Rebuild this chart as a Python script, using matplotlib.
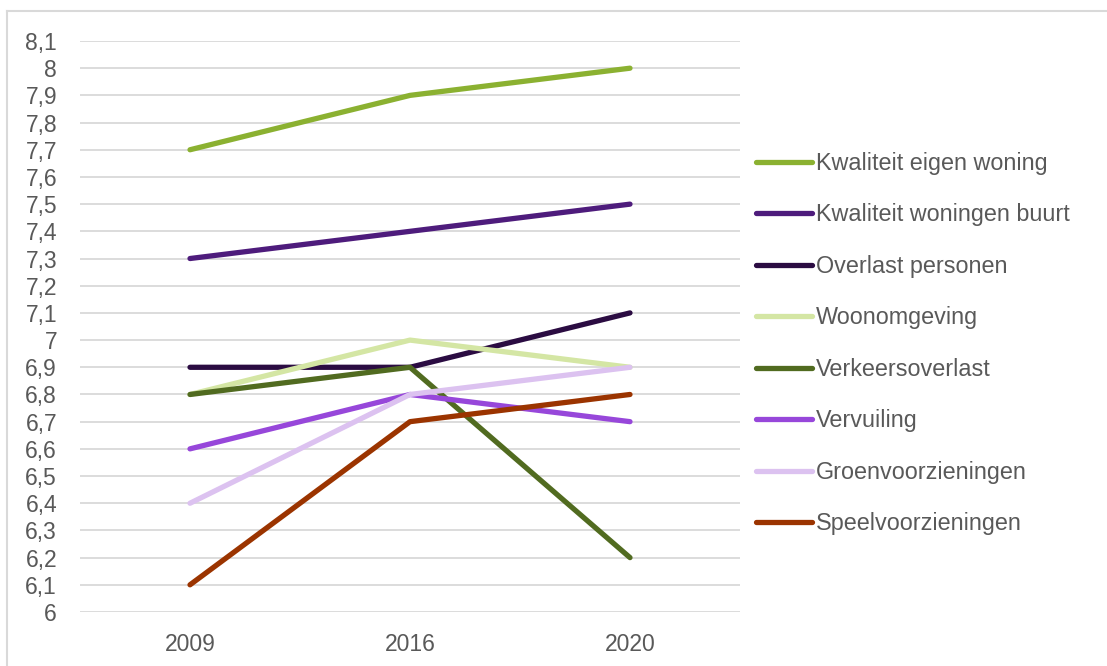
import matplotlib
matplotlib.use("Agg")
import matplotlib.pyplot as plt
from matplotlib.lines import Line2D
from matplotlib.ticker import FuncFormatter, MultipleLocator

plt.rcParams['font.family'] = ['Liberation Sans', 'DejaVu Sans']

YEARS = ['2009', '2016', '2020']

SERIES = [
    'Kwaliteit eigen woning',
    'Kwaliteit woningen buurt',
    'Overlast personen',
    'Woonomgeving',
    'Verkeersoverlast',
    'Vervuiling',
    'Groenvoorzieningen',
    'Speelvoorzieningen',
]

kwaliteit_eigen = [7.7, 7.9, 8.0]
kwaliteit_buurt = [7.3, 7.4, 7.5]
overlast_personen = [6.9, 6.9, 7.1]
woonomgeving = [6.8, 7.0, 6.9]
verkeersoverlast = [6.8, 6.9, 6.2]
vervuiling = [6.6, 6.8, 6.7]
groen = [6.4, 6.8, 6.9]
speel = [6.1, 6.7, 6.8]

VALUES = [kwaliteit_eigen, kwaliteit_buurt, overlast_personen, woonomgeving,
          verkeersoverlast, vervuiling, groen, speel]

COLORS = ['#8BB131', '#4E1C7C', '#2B0C42', '#D4E6A4',
          '#516B20', '#9747DA', '#DCC2F0', '#9B3400']

TEXT_COL = '#595959'
GRID_COL = '#D9D9D9'

fig = plt.figure(figsize=(11.07, 6.66), dpi=100)
ax = fig.add_axes([80/1107, 1 - 612/666, 660/1107, 571/666])

x = list(range(len(YEARS)))
for name, vals, col in zip(SERIES, VALUES, COLORS):
    ax.plot(x, vals, color=col, lw=3.8, solid_capstyle='round',
            solid_joinstyle='round', label=name)

ax.set_xlim(-0.5, 2.5)
ax.set_ylim(6, 8.1)
ax.yaxis.set_major_locator(MultipleLocator(0.1))

def fmt(v, pos):
    s = ('%.1f' % v).rstrip('0').rstrip('.')
    return s.replace('.', ',')
ax.yaxis.set_major_formatter(FuncFormatter(fmt))
ax.set_xticks(x)
ax.set_xticklabels(YEARS)

ax.grid(axis='y', color=GRID_COL, lw=1.3)
ax.set_axisbelow(True)
for s in ax.spines.values():
    s.set_visible(False)
ax.tick_params(length=0, labelsize=16.5, colors=TEXT_COL)
ax.tick_params(axis='y', pad=16.5)
ax.tick_params(axis='x', pad=15)

leg = ax.legend(loc='upper left',
                bbox_to_anchor=((756 - 80)/660, 1 - (152 - 41)/571),
                frameon=False, fontsize=16.8, labelcolor=TEXT_COL,
                handlelength=2.4, handletextpad=0.15, labelspacing=1.22,
                borderaxespad=0, borderpad=0)

# chart border (top and left only visible)
fig.add_artist(Line2D([7/1107, 7/1107], [0, 1 - 11/666], color=GRID_COL, lw=1.5))
fig.add_artist(Line2D([7/1107, 1], [1 - 11/666, 1 - 11/666], color=GRID_COL, lw=1.5))

fig.savefig('out.png', dpi=100)
